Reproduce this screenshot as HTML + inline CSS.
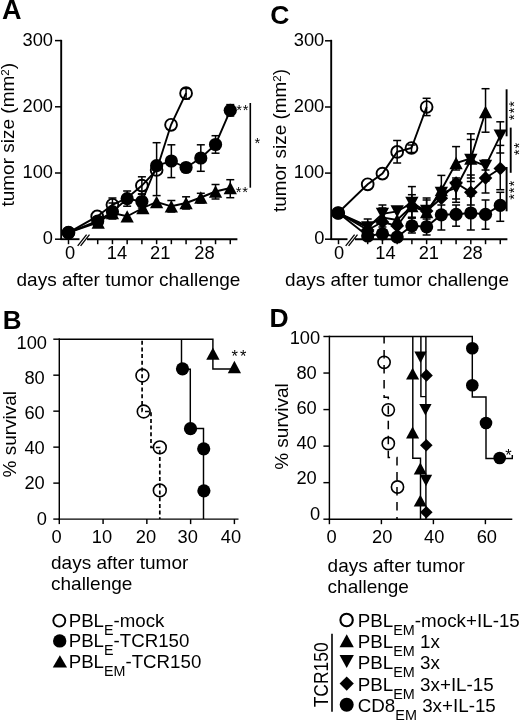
<!DOCTYPE html>
<html><head><meta charset="utf-8"><title>Figure</title>
<style>
html,body{margin:0;padding:0;background:#fff;}
svg{display:block;}
text{font-family:"Liberation Sans",sans-serif;fill:#000;}
</style></head>
<body>
<svg width="520" height="721" viewBox="0 0 520 721">
<rect width="520" height="721" fill="#fff"/>
<line x1="61.20" y1="39.80" x2="61.20" y2="240.00" stroke="#000" stroke-width="1.9" />
<line x1="60.40" y1="239.20" x2="79.50" y2="239.20" stroke="#000" stroke-width="1.9" />
<line x1="87.00" y1="239.20" x2="237.40" y2="239.20" stroke="#000" stroke-width="1.9" />
<line x1="77.70" y1="245.80" x2="86.60" y2="234.60" stroke="#000" stroke-width="1.3" />
<line x1="80.60" y1="245.80" x2="89.50" y2="234.60" stroke="#000" stroke-width="1.3" />
<line x1="55.00" y1="40.60" x2="61.20" y2="40.60" stroke="#000" stroke-width="1.5" />
<text x="53.00" y="45.80" font-size="18.3" text-anchor="end" font-weight="normal" >300</text>
<line x1="55.00" y1="106.80" x2="61.20" y2="106.80" stroke="#000" stroke-width="1.5" />
<text x="53.00" y="112.00" font-size="18.3" text-anchor="end" font-weight="normal" >200</text>
<line x1="55.00" y1="173.00" x2="61.20" y2="173.00" stroke="#000" stroke-width="1.5" />
<text x="53.00" y="178.20" font-size="18.3" text-anchor="end" font-weight="normal" >100</text>
<line x1="55.00" y1="239.20" x2="61.20" y2="239.20" stroke="#000" stroke-width="1.5" />
<text x="53.00" y="244.40" font-size="18.3" text-anchor="end" font-weight="normal" >0</text>
<line x1="68.50" y1="239.20" x2="68.50" y2="244.20" stroke="#000" stroke-width="1.5" />
<line x1="97.70" y1="239.20" x2="97.70" y2="244.20" stroke="#000" stroke-width="1.5" />
<line x1="112.43" y1="239.20" x2="112.43" y2="244.20" stroke="#000" stroke-width="1.5" />
<line x1="127.16" y1="239.20" x2="127.16" y2="244.20" stroke="#000" stroke-width="1.5" />
<line x1="141.89" y1="239.20" x2="141.89" y2="244.20" stroke="#000" stroke-width="1.5" />
<line x1="156.62" y1="239.20" x2="156.62" y2="244.20" stroke="#000" stroke-width="1.5" />
<line x1="171.35" y1="239.20" x2="171.35" y2="244.20" stroke="#000" stroke-width="1.5" />
<line x1="186.08" y1="239.20" x2="186.08" y2="244.20" stroke="#000" stroke-width="1.5" />
<line x1="200.81" y1="239.20" x2="200.81" y2="244.20" stroke="#000" stroke-width="1.5" />
<line x1="215.54" y1="239.20" x2="215.54" y2="244.20" stroke="#000" stroke-width="1.5" />
<line x1="230.27" y1="239.20" x2="230.27" y2="244.20" stroke="#000" stroke-width="1.5" />
<text x="70.20" y="259.20" font-size="18.3" text-anchor="middle" font-weight="normal" >0</text>
<text x="116.90" y="259.20" font-size="18.3" text-anchor="middle" font-weight="normal" >14</text>
<text x="160.20" y="259.20" font-size="18.3" text-anchor="middle" font-weight="normal" >21</text>
<text x="204.40" y="259.20" font-size="18.3" text-anchor="middle" font-weight="normal" >28</text>
<text x="16.50" y="286.30" font-size="19" text-anchor="start" font-weight="normal" >days after tumor challenge</text>
<text transform="translate(14.2,206.6) rotate(-90)" font-size="19">tumor size (mm<tspan font-size="11.5" dy="-5">2</tspan><tspan dy="5">)</tspan></text>
<text x="2.10" y="18.80" font-size="27" text-anchor="start" font-weight="bold" >A</text>
<circle cx="68.50" cy="232.70" r="5.9" fill="#fff" stroke="#000" stroke-width="1.9"/>
<circle cx="97.20" cy="216.40" r="5.9" fill="#fff" stroke="#000" stroke-width="1.9"/>
<circle cx="112.43" cy="204.80" r="5.9" fill="#fff" stroke="#000" stroke-width="1.9"/>
<circle cx="141.89" cy="185.60" r="5.9" fill="#fff" stroke="#000" stroke-width="1.9"/>
<circle cx="156.62" cy="170.00" r="5.9" fill="#fff" stroke="#000" stroke-width="1.9"/>
<circle cx="171.05" cy="124.80" r="5.9" fill="#fff" stroke="#000" stroke-width="1.9"/>
<circle cx="186.08" cy="93.20" r="5.9" fill="#fff" stroke="#000" stroke-width="1.9"/>
<polyline points="68.50,232.70 97.20,216.40 112.43,204.80 127.16,198.00 141.89,185.60 156.62,170.00 171.05,124.80 186.08,93.20" fill="none" stroke="#000" stroke-width="1.9" />
<line x1="112.43" y1="198.00" x2="112.43" y2="211.00" stroke="#000" stroke-width="1.5" />
<line x1="108.43" y1="198.00" x2="116.43" y2="198.00" stroke="#000" stroke-width="1.5" />
<line x1="108.43" y1="211.00" x2="116.43" y2="211.00" stroke="#000" stroke-width="1.5" />
<line x1="141.89" y1="176.80" x2="141.89" y2="194.00" stroke="#000" stroke-width="1.5" />
<line x1="137.89" y1="176.80" x2="145.89" y2="176.80" stroke="#000" stroke-width="1.5" />
<line x1="137.89" y1="194.00" x2="145.89" y2="194.00" stroke="#000" stroke-width="1.5" />
<line x1="186.08" y1="88.50" x2="186.08" y2="99.00" stroke="#000" stroke-width="1.5" />
<line x1="182.08" y1="88.50" x2="190.08" y2="88.50" stroke="#000" stroke-width="1.5" />
<line x1="182.08" y1="99.00" x2="190.08" y2="99.00" stroke="#000" stroke-width="1.5" />
<line x1="171.35" y1="200.50" x2="171.35" y2="212.00" stroke="#000" stroke-width="1.5" />
<line x1="167.35" y1="200.50" x2="175.35" y2="200.50" stroke="#000" stroke-width="1.5" />
<line x1="167.35" y1="212.00" x2="175.35" y2="212.00" stroke="#000" stroke-width="1.5" />
<line x1="186.08" y1="196.80" x2="186.08" y2="209.00" stroke="#000" stroke-width="1.5" />
<line x1="182.08" y1="196.80" x2="190.08" y2="196.80" stroke="#000" stroke-width="1.5" />
<line x1="182.08" y1="209.00" x2="190.08" y2="209.00" stroke="#000" stroke-width="1.5" />
<line x1="200.81" y1="193.30" x2="200.81" y2="203.00" stroke="#000" stroke-width="1.5" />
<line x1="196.81" y1="193.30" x2="204.81" y2="193.30" stroke="#000" stroke-width="1.5" />
<line x1="196.81" y1="203.00" x2="204.81" y2="203.00" stroke="#000" stroke-width="1.5" />
<line x1="215.54" y1="184.50" x2="215.54" y2="199.00" stroke="#000" stroke-width="1.5" />
<line x1="211.54" y1="184.50" x2="219.54" y2="184.50" stroke="#000" stroke-width="1.5" />
<line x1="211.54" y1="199.00" x2="219.54" y2="199.00" stroke="#000" stroke-width="1.5" />
<line x1="230.27" y1="179.70" x2="230.27" y2="197.70" stroke="#000" stroke-width="1.5" />
<line x1="226.27" y1="179.70" x2="234.27" y2="179.70" stroke="#000" stroke-width="1.5" />
<line x1="226.27" y1="197.70" x2="234.27" y2="197.70" stroke="#000" stroke-width="1.5" />
<polyline points="68.50,232.70 98.20,222.50 112.43,213.00 127.16,216.30 142.89,208.00 156.62,202.00 171.35,206.30 186.08,203.00 200.81,197.50 215.54,191.50 230.27,188.00" fill="none" stroke="#000" stroke-width="1.9" />
<polygon points="91.55,228.65 104.85,228.65 98.20,216.35" fill="#000"/>
<polygon points="105.78,219.15 119.08,219.15 112.43,206.85" fill="#000"/>
<polygon points="120.51,222.45 133.81,222.45 127.16,210.15" fill="#000"/>
<polygon points="136.24,214.15 149.54,214.15 142.89,201.85" fill="#000"/>
<polygon points="149.97,208.15 163.27,208.15 156.62,195.85" fill="#000"/>
<polygon points="164.70,212.45 178.00,212.45 171.35,200.15" fill="#000"/>
<polygon points="179.43,209.15 192.73,209.15 186.08,196.85" fill="#000"/>
<polygon points="194.16,203.65 207.46,203.65 200.81,191.35" fill="#000"/>
<polygon points="208.89,197.65 222.19,197.65 215.54,185.35" fill="#000"/>
<polygon points="223.62,194.15 236.92,194.15 230.27,181.85" fill="#000"/>
<line x1="112.43" y1="203.00" x2="112.43" y2="219.00" stroke="#000" stroke-width="1.5" />
<line x1="108.43" y1="203.00" x2="116.43" y2="203.00" stroke="#000" stroke-width="1.5" />
<line x1="108.43" y1="219.00" x2="116.43" y2="219.00" stroke="#000" stroke-width="1.5" />
<line x1="127.16" y1="191.00" x2="127.16" y2="206.20" stroke="#000" stroke-width="1.5" />
<line x1="123.16" y1="191.00" x2="131.16" y2="191.00" stroke="#000" stroke-width="1.5" />
<line x1="123.16" y1="206.20" x2="131.16" y2="206.20" stroke="#000" stroke-width="1.5" />
<line x1="141.89" y1="194.00" x2="141.89" y2="208.00" stroke="#000" stroke-width="1.5" />
<line x1="137.89" y1="194.00" x2="145.89" y2="194.00" stroke="#000" stroke-width="1.5" />
<line x1="137.89" y1="208.00" x2="145.89" y2="208.00" stroke="#000" stroke-width="1.5" />
<line x1="156.62" y1="142.70" x2="156.62" y2="195.60" stroke="#000" stroke-width="1.5" />
<line x1="152.62" y1="142.70" x2="160.62" y2="142.70" stroke="#000" stroke-width="1.5" />
<line x1="152.62" y1="195.60" x2="160.62" y2="195.60" stroke="#000" stroke-width="1.5" />
<line x1="171.35" y1="144.80" x2="171.35" y2="177.60" stroke="#000" stroke-width="1.5" />
<line x1="167.35" y1="144.80" x2="175.35" y2="144.80" stroke="#000" stroke-width="1.5" />
<line x1="167.35" y1="177.60" x2="175.35" y2="177.60" stroke="#000" stroke-width="1.5" />
<line x1="200.81" y1="144.80" x2="200.81" y2="171.30" stroke="#000" stroke-width="1.5" />
<line x1="196.81" y1="144.80" x2="204.81" y2="144.80" stroke="#000" stroke-width="1.5" />
<line x1="196.81" y1="171.30" x2="204.81" y2="171.30" stroke="#000" stroke-width="1.5" />
<line x1="215.54" y1="135.70" x2="215.54" y2="153.20" stroke="#000" stroke-width="1.5" />
<line x1="211.54" y1="135.70" x2="219.54" y2="135.70" stroke="#000" stroke-width="1.5" />
<line x1="211.54" y1="153.20" x2="219.54" y2="153.20" stroke="#000" stroke-width="1.5" />
<line x1="230.27" y1="104.60" x2="230.27" y2="116.00" stroke="#000" stroke-width="1.5" />
<line x1="226.27" y1="104.60" x2="234.27" y2="104.60" stroke="#000" stroke-width="1.5" />
<line x1="226.27" y1="116.00" x2="234.27" y2="116.00" stroke="#000" stroke-width="1.5" />
<polyline points="68.50,232.70 97.70,221.00 112.43,211.70 127.16,198.70 141.89,201.50 156.62,165.70 171.35,161.00 186.08,167.50 200.81,158.00 215.54,144.50 230.27,110.30" fill="none" stroke="#000" stroke-width="1.9" />
<circle cx="68.50" cy="232.70" r="6.6" fill="#000"/>
<circle cx="97.70" cy="221.00" r="6.6" fill="#000"/>
<circle cx="112.43" cy="211.70" r="6.6" fill="#000"/>
<circle cx="127.16" cy="198.70" r="6.6" fill="#000"/>
<circle cx="141.89" cy="201.50" r="6.6" fill="#000"/>
<circle cx="156.62" cy="165.70" r="6.6" fill="#000"/>
<circle cx="171.35" cy="161.00" r="6.6" fill="#000"/>
<circle cx="186.08" cy="167.50" r="6.6" fill="#000"/>
<circle cx="200.81" cy="158.00" r="6.6" fill="#000"/>
<circle cx="215.54" cy="144.50" r="6.6" fill="#000"/>
<circle cx="230.27" cy="110.30" r="6.6" fill="#000"/>
<text x="236.20" y="114.60" font-size="14.7" text-anchor="start" font-weight="normal" letter-spacing="0.9">**</text>
<text x="235.70" y="196.60" font-size="14.7" text-anchor="start" font-weight="normal" letter-spacing="0.9">**</text>
<line x1="250.30" y1="103.00" x2="250.30" y2="187.70" stroke="#000" stroke-width="1.6" />
<text x="254.50" y="148.10" font-size="14.7" text-anchor="start" font-weight="normal" >*</text>
<line x1="331.20" y1="39.80" x2="331.20" y2="240.00" stroke="#000" stroke-width="1.9" />
<line x1="330.40" y1="239.20" x2="347.50" y2="239.20" stroke="#000" stroke-width="1.9" />
<line x1="355.00" y1="239.20" x2="507.40" y2="239.20" stroke="#000" stroke-width="1.9" />
<line x1="345.70" y1="245.80" x2="354.60" y2="234.60" stroke="#000" stroke-width="1.3" />
<line x1="348.60" y1="245.80" x2="357.50" y2="234.60" stroke="#000" stroke-width="1.3" />
<line x1="325.00" y1="40.80" x2="331.20" y2="40.80" stroke="#000" stroke-width="1.5" />
<text x="324.30" y="46.00" font-size="18.3" text-anchor="end" font-weight="normal" >300</text>
<line x1="325.00" y1="107.00" x2="331.20" y2="107.00" stroke="#000" stroke-width="1.5" />
<text x="324.30" y="112.20" font-size="18.3" text-anchor="end" font-weight="normal" >200</text>
<line x1="325.00" y1="173.10" x2="331.20" y2="173.10" stroke="#000" stroke-width="1.5" />
<text x="324.30" y="178.30" font-size="18.3" text-anchor="end" font-weight="normal" >100</text>
<line x1="325.00" y1="239.20" x2="331.20" y2="239.20" stroke="#000" stroke-width="1.5" />
<text x="324.30" y="244.40" font-size="18.3" text-anchor="end" font-weight="normal" >0</text>
<line x1="338.50" y1="239.20" x2="338.50" y2="244.20" stroke="#000" stroke-width="1.5" />
<line x1="367.70" y1="239.20" x2="367.70" y2="244.20" stroke="#000" stroke-width="1.5" />
<line x1="382.43" y1="239.20" x2="382.43" y2="244.20" stroke="#000" stroke-width="1.5" />
<line x1="397.16" y1="239.20" x2="397.16" y2="244.20" stroke="#000" stroke-width="1.5" />
<line x1="411.89" y1="239.20" x2="411.89" y2="244.20" stroke="#000" stroke-width="1.5" />
<line x1="426.62" y1="239.20" x2="426.62" y2="244.20" stroke="#000" stroke-width="1.5" />
<line x1="441.35" y1="239.20" x2="441.35" y2="244.20" stroke="#000" stroke-width="1.5" />
<line x1="456.08" y1="239.20" x2="456.08" y2="244.20" stroke="#000" stroke-width="1.5" />
<line x1="470.81" y1="239.20" x2="470.81" y2="244.20" stroke="#000" stroke-width="1.5" />
<line x1="485.54" y1="239.20" x2="485.54" y2="244.20" stroke="#000" stroke-width="1.5" />
<line x1="500.27" y1="239.20" x2="500.27" y2="244.20" stroke="#000" stroke-width="1.5" />
<text x="339.20" y="259.40" font-size="18.3" text-anchor="middle" font-weight="normal" >0</text>
<text x="385.40" y="259.40" font-size="18.3" text-anchor="middle" font-weight="normal" >14</text>
<text x="428.80" y="259.40" font-size="18.3" text-anchor="middle" font-weight="normal" >21</text>
<text x="472.60" y="259.40" font-size="18.3" text-anchor="middle" font-weight="normal" >28</text>
<text x="285.10" y="286.30" font-size="19" text-anchor="start" font-weight="normal" >days after tumor challenge</text>
<text transform="translate(285.5,212.1) rotate(-90)" font-size="18.95">tumor size (mm<tspan font-size="11.5" dy="-5">2</tspan><tspan dy="5">)</tspan></text>
<text x="270.20" y="24.40" font-size="26.5" text-anchor="start" font-weight="bold" >C</text>
<circle cx="338.00" cy="213.00" r="5.9" fill="#fff" stroke="#000" stroke-width="1.9"/>
<circle cx="367.70" cy="184.30" r="5.9" fill="#fff" stroke="#000" stroke-width="1.9"/>
<circle cx="382.43" cy="173.60" r="5.9" fill="#fff" stroke="#000" stroke-width="1.9"/>
<circle cx="397.16" cy="151.90" r="5.9" fill="#fff" stroke="#000" stroke-width="1.9"/>
<circle cx="411.49" cy="148.00" r="5.9" fill="#fff" stroke="#000" stroke-width="1.9"/>
<circle cx="426.62" cy="107.00" r="5.9" fill="#fff" stroke="#000" stroke-width="1.9"/>
<polyline points="338.00,213.00 367.70,184.30 382.43,173.60 397.16,151.90 411.49,148.00 426.62,107.00" fill="none" stroke="#000" stroke-width="1.9" />
<line x1="397.16" y1="140.50" x2="397.16" y2="163.00" stroke="#000" stroke-width="1.5" />
<line x1="393.16" y1="140.50" x2="401.16" y2="140.50" stroke="#000" stroke-width="1.5" />
<line x1="393.16" y1="163.00" x2="401.16" y2="163.00" stroke="#000" stroke-width="1.5" />
<line x1="411.49" y1="145.00" x2="411.49" y2="152.50" stroke="#000" stroke-width="1.5" />
<line x1="407.49" y1="145.00" x2="415.49" y2="145.00" stroke="#000" stroke-width="1.5" />
<line x1="407.49" y1="152.50" x2="415.49" y2="152.50" stroke="#000" stroke-width="1.5" />
<line x1="426.62" y1="98.30" x2="426.62" y2="115.60" stroke="#000" stroke-width="1.5" />
<line x1="422.62" y1="98.30" x2="430.62" y2="98.30" stroke="#000" stroke-width="1.5" />
<line x1="422.62" y1="115.60" x2="430.62" y2="115.60" stroke="#000" stroke-width="1.5" />
<line x1="367.70" y1="219.00" x2="367.70" y2="233.00" stroke="#000" stroke-width="1.5" />
<line x1="363.70" y1="219.00" x2="371.70" y2="219.00" stroke="#000" stroke-width="1.5" />
<line x1="363.70" y1="233.00" x2="371.70" y2="233.00" stroke="#000" stroke-width="1.5" />
<line x1="382.43" y1="208.00" x2="382.43" y2="227.00" stroke="#000" stroke-width="1.5" />
<line x1="378.43" y1="208.00" x2="386.43" y2="208.00" stroke="#000" stroke-width="1.5" />
<line x1="378.43" y1="227.00" x2="386.43" y2="227.00" stroke="#000" stroke-width="1.5" />
<line x1="411.89" y1="186.60" x2="411.89" y2="218.00" stroke="#000" stroke-width="1.5" />
<line x1="407.89" y1="186.60" x2="415.89" y2="186.60" stroke="#000" stroke-width="1.5" />
<line x1="407.89" y1="218.00" x2="415.89" y2="218.00" stroke="#000" stroke-width="1.5" />
<line x1="426.62" y1="200.00" x2="426.62" y2="224.00" stroke="#000" stroke-width="1.5" />
<line x1="422.62" y1="200.00" x2="430.62" y2="200.00" stroke="#000" stroke-width="1.5" />
<line x1="422.62" y1="224.00" x2="430.62" y2="224.00" stroke="#000" stroke-width="1.5" />
<line x1="441.35" y1="175.40" x2="441.35" y2="200.00" stroke="#000" stroke-width="1.5" />
<line x1="437.35" y1="175.40" x2="445.35" y2="175.40" stroke="#000" stroke-width="1.5" />
<line x1="437.35" y1="200.00" x2="445.35" y2="200.00" stroke="#000" stroke-width="1.5" />
<line x1="456.08" y1="146.60" x2="456.08" y2="170.00" stroke="#000" stroke-width="1.5" />
<line x1="452.08" y1="146.60" x2="460.08" y2="146.60" stroke="#000" stroke-width="1.5" />
<line x1="452.08" y1="170.00" x2="460.08" y2="170.00" stroke="#000" stroke-width="1.5" />
<line x1="470.81" y1="133.80" x2="470.81" y2="178.00" stroke="#000" stroke-width="1.5" />
<line x1="466.81" y1="133.80" x2="474.81" y2="133.80" stroke="#000" stroke-width="1.5" />
<line x1="466.81" y1="178.00" x2="474.81" y2="178.00" stroke="#000" stroke-width="1.5" />
<line x1="485.54" y1="88.70" x2="485.54" y2="132.20" stroke="#000" stroke-width="1.5" />
<line x1="481.54" y1="88.70" x2="489.54" y2="88.70" stroke="#000" stroke-width="1.5" />
<line x1="481.54" y1="132.20" x2="489.54" y2="132.20" stroke="#000" stroke-width="1.5" />
<polyline points="338.50,213.00 367.70,226.00 382.43,217.50 397.16,220.00 411.89,206.00 426.62,212.00 441.35,190.00 456.08,163.00 470.81,158.50 485.54,112.00" fill="none" stroke="#000" stroke-width="1.9" />
<polygon points="361.05,232.15 374.35,232.15 367.70,219.85" fill="#000"/>
<polygon points="375.78,223.65 389.08,223.65 382.43,211.35" fill="#000"/>
<polygon points="390.51,226.15 403.81,226.15 397.16,213.85" fill="#000"/>
<polygon points="405.24,212.15 418.54,212.15 411.89,199.85" fill="#000"/>
<polygon points="419.97,218.15 433.27,218.15 426.62,205.85" fill="#000"/>
<polygon points="434.70,196.15 448.00,196.15 441.35,183.85" fill="#000"/>
<polygon points="449.43,169.15 462.73,169.15 456.08,156.85" fill="#000"/>
<polygon points="464.16,164.65 477.46,164.65 470.81,152.35" fill="#000"/>
<polygon points="478.89,118.15 492.19,118.15 485.54,105.85" fill="#000"/>
<line x1="382.43" y1="205.00" x2="382.43" y2="224.00" stroke="#000" stroke-width="1.5" />
<line x1="378.43" y1="205.00" x2="386.43" y2="205.00" stroke="#000" stroke-width="1.5" />
<line x1="378.43" y1="224.00" x2="386.43" y2="224.00" stroke="#000" stroke-width="1.5" />
<line x1="411.89" y1="194.70" x2="411.89" y2="217.20" stroke="#000" stroke-width="1.5" />
<line x1="407.89" y1="194.70" x2="415.89" y2="194.70" stroke="#000" stroke-width="1.5" />
<line x1="407.89" y1="217.20" x2="415.89" y2="217.20" stroke="#000" stroke-width="1.5" />
<line x1="426.62" y1="198.00" x2="426.62" y2="222.00" stroke="#000" stroke-width="1.5" />
<line x1="422.62" y1="198.00" x2="430.62" y2="198.00" stroke="#000" stroke-width="1.5" />
<line x1="422.62" y1="222.00" x2="430.62" y2="222.00" stroke="#000" stroke-width="1.5" />
<line x1="456.08" y1="180.00" x2="456.08" y2="202.30" stroke="#000" stroke-width="1.5" />
<line x1="452.08" y1="180.00" x2="460.08" y2="180.00" stroke="#000" stroke-width="1.5" />
<line x1="452.08" y1="202.30" x2="460.08" y2="202.30" stroke="#000" stroke-width="1.5" />
<line x1="470.81" y1="139.50" x2="470.81" y2="181.50" stroke="#000" stroke-width="1.5" />
<line x1="466.81" y1="139.50" x2="474.81" y2="139.50" stroke="#000" stroke-width="1.5" />
<line x1="466.81" y1="181.50" x2="474.81" y2="181.50" stroke="#000" stroke-width="1.5" />
<line x1="485.54" y1="160.00" x2="485.54" y2="181.00" stroke="#000" stroke-width="1.5" />
<line x1="481.54" y1="160.00" x2="489.54" y2="160.00" stroke="#000" stroke-width="1.5" />
<line x1="481.54" y1="181.00" x2="489.54" y2="181.00" stroke="#000" stroke-width="1.5" />
<line x1="500.27" y1="121.80" x2="500.27" y2="153.00" stroke="#000" stroke-width="1.5" />
<line x1="496.27" y1="121.80" x2="504.27" y2="121.80" stroke="#000" stroke-width="1.5" />
<line x1="496.27" y1="153.00" x2="504.27" y2="153.00" stroke="#000" stroke-width="1.5" />
<polyline points="338.50,213.00 367.70,227.50 382.43,213.80 397.16,211.40 411.89,203.00 426.62,211.00 441.35,193.00 456.08,188.00 470.81,160.00 485.54,165.90 500.27,135.60" fill="none" stroke="#000" stroke-width="1.9" />
<polygon points="361.05,221.35 374.35,221.35 367.70,233.65" fill="#000"/>
<polygon points="375.78,207.65 389.08,207.65 382.43,219.95" fill="#000"/>
<polygon points="390.51,205.25 403.81,205.25 397.16,217.55" fill="#000"/>
<polygon points="405.24,196.85 418.54,196.85 411.89,209.15" fill="#000"/>
<polygon points="419.97,204.85 433.27,204.85 426.62,217.15" fill="#000"/>
<polygon points="434.70,186.85 448.00,186.85 441.35,199.15" fill="#000"/>
<polygon points="449.43,181.85 462.73,181.85 456.08,194.15" fill="#000"/>
<polygon points="464.16,153.85 477.46,153.85 470.81,166.15" fill="#000"/>
<polygon points="478.89,159.75 492.19,159.75 485.54,172.05" fill="#000"/>
<polygon points="493.62,129.45 506.92,129.45 500.27,141.75" fill="#000"/>
<line x1="456.08" y1="178.00" x2="456.08" y2="199.00" stroke="#000" stroke-width="1.5" />
<line x1="452.08" y1="178.00" x2="460.08" y2="178.00" stroke="#000" stroke-width="1.5" />
<line x1="452.08" y1="199.00" x2="460.08" y2="199.00" stroke="#000" stroke-width="1.5" />
<line x1="470.81" y1="175.00" x2="470.81" y2="205.00" stroke="#000" stroke-width="1.5" />
<line x1="466.81" y1="175.00" x2="474.81" y2="175.00" stroke="#000" stroke-width="1.5" />
<line x1="466.81" y1="205.00" x2="474.81" y2="205.00" stroke="#000" stroke-width="1.5" />
<line x1="485.54" y1="170.00" x2="485.54" y2="193.00" stroke="#000" stroke-width="1.5" />
<line x1="481.54" y1="170.00" x2="489.54" y2="170.00" stroke="#000" stroke-width="1.5" />
<line x1="481.54" y1="193.00" x2="489.54" y2="193.00" stroke="#000" stroke-width="1.5" />
<line x1="500.27" y1="145.40" x2="500.27" y2="189.70" stroke="#000" stroke-width="1.5" />
<line x1="496.27" y1="145.40" x2="504.27" y2="145.40" stroke="#000" stroke-width="1.5" />
<line x1="496.27" y1="189.70" x2="504.27" y2="189.70" stroke="#000" stroke-width="1.5" />
<polyline points="338.50,213.00 367.70,230.00 382.43,222.00 397.16,226.00 411.89,206.00 426.62,211.00 441.35,198.30 456.08,183.00 470.81,192.30 485.54,178.00 500.27,168.50" fill="none" stroke="#000" stroke-width="1.9" />
<polygon points="360.90,230.00 367.70,223.20 374.50,230.00 367.70,236.80" fill="#000"/>
<polygon points="375.63,222.00 382.43,215.20 389.23,222.00 382.43,228.80" fill="#000"/>
<polygon points="390.36,226.00 397.16,219.20 403.96,226.00 397.16,232.80" fill="#000"/>
<polygon points="405.09,206.00 411.89,199.20 418.69,206.00 411.89,212.80" fill="#000"/>
<polygon points="419.82,211.00 426.62,204.20 433.42,211.00 426.62,217.80" fill="#000"/>
<polygon points="434.55,198.30 441.35,191.50 448.15,198.30 441.35,205.10" fill="#000"/>
<polygon points="449.28,183.00 456.08,176.20 462.88,183.00 456.08,189.80" fill="#000"/>
<polygon points="464.01,192.30 470.81,185.50 477.61,192.30 470.81,199.10" fill="#000"/>
<polygon points="478.74,178.00 485.54,171.20 492.34,178.00 485.54,184.80" fill="#000"/>
<polygon points="493.47,168.50 500.27,161.70 507.07,168.50 500.27,175.30" fill="#000"/>
<line x1="411.89" y1="218.00" x2="411.89" y2="233.00" stroke="#000" stroke-width="1.5" />
<line x1="407.89" y1="218.00" x2="415.89" y2="218.00" stroke="#000" stroke-width="1.5" />
<line x1="407.89" y1="233.00" x2="415.89" y2="233.00" stroke="#000" stroke-width="1.5" />
<line x1="426.62" y1="219.00" x2="426.62" y2="235.00" stroke="#000" stroke-width="1.5" />
<line x1="422.62" y1="219.00" x2="430.62" y2="219.00" stroke="#000" stroke-width="1.5" />
<line x1="422.62" y1="235.00" x2="430.62" y2="235.00" stroke="#000" stroke-width="1.5" />
<line x1="441.35" y1="205.00" x2="441.35" y2="230.00" stroke="#000" stroke-width="1.5" />
<line x1="437.35" y1="205.00" x2="445.35" y2="205.00" stroke="#000" stroke-width="1.5" />
<line x1="437.35" y1="230.00" x2="445.35" y2="230.00" stroke="#000" stroke-width="1.5" />
<line x1="456.08" y1="205.00" x2="456.08" y2="226.20" stroke="#000" stroke-width="1.5" />
<line x1="452.08" y1="205.00" x2="460.08" y2="205.00" stroke="#000" stroke-width="1.5" />
<line x1="452.08" y1="226.20" x2="460.08" y2="226.20" stroke="#000" stroke-width="1.5" />
<line x1="470.81" y1="196.00" x2="470.81" y2="230.00" stroke="#000" stroke-width="1.5" />
<line x1="466.81" y1="196.00" x2="474.81" y2="196.00" stroke="#000" stroke-width="1.5" />
<line x1="466.81" y1="230.00" x2="474.81" y2="230.00" stroke="#000" stroke-width="1.5" />
<line x1="485.54" y1="200.00" x2="485.54" y2="229.20" stroke="#000" stroke-width="1.5" />
<line x1="481.54" y1="200.00" x2="489.54" y2="200.00" stroke="#000" stroke-width="1.5" />
<line x1="481.54" y1="229.20" x2="489.54" y2="229.20" stroke="#000" stroke-width="1.5" />
<line x1="500.27" y1="192.30" x2="500.27" y2="221.30" stroke="#000" stroke-width="1.5" />
<line x1="496.27" y1="192.30" x2="504.27" y2="192.30" stroke="#000" stroke-width="1.5" />
<line x1="496.27" y1="221.30" x2="504.27" y2="221.30" stroke="#000" stroke-width="1.5" />
<polyline points="338.50,213.00 367.70,236.00 382.43,233.80 397.16,237.00 411.89,225.80 426.62,226.80 441.35,214.80 456.08,214.30 470.81,213.00 485.54,214.30 500.27,205.40" fill="none" stroke="#000" stroke-width="1.9" />
<circle cx="338.50" cy="213.00" r="6.6" fill="#000"/>
<circle cx="367.70" cy="236.00" r="6.6" fill="#000"/>
<circle cx="382.43" cy="233.80" r="6.6" fill="#000"/>
<circle cx="397.16" cy="237.00" r="6.6" fill="#000"/>
<circle cx="411.89" cy="225.80" r="6.6" fill="#000"/>
<circle cx="426.62" cy="226.80" r="6.6" fill="#000"/>
<circle cx="441.35" cy="214.80" r="6.6" fill="#000"/>
<circle cx="456.08" cy="214.30" r="6.6" fill="#000"/>
<circle cx="470.81" cy="213.00" r="6.6" fill="#000"/>
<circle cx="485.54" cy="214.30" r="6.6" fill="#000"/>
<circle cx="500.27" cy="205.40" r="6.6" fill="#000"/>
<line x1="506.60" y1="89.30" x2="506.60" y2="136.30" stroke="#000" stroke-width="1.9" />
<line x1="510.70" y1="127.60" x2="510.70" y2="172.80" stroke="#000" stroke-width="1.9" />
<line x1="506.60" y1="167.00" x2="506.60" y2="211.30" stroke="#000" stroke-width="1.9" />
<text transform="translate(519.2,120.2) rotate(-90)" font-size="15" letter-spacing="0.8">***</text>
<text transform="translate(524.3,155.2) rotate(-90)" font-size="15" letter-spacing="0.8">**</text>
<text transform="translate(519.2,199.8) rotate(-90)" font-size="15" letter-spacing="0.8">***</text>
<line x1="59.30" y1="338.40" x2="59.30" y2="519.90" stroke="#000" stroke-width="1.45" />
<line x1="58.50" y1="519.10" x2="238.50" y2="519.10" stroke="#000" stroke-width="1.45" />
<line x1="53.30" y1="519.10" x2="59.30" y2="519.10" stroke="#000" stroke-width="1.45" />
<text x="47.00" y="524.50" font-size="18.3" text-anchor="end" font-weight="normal" >0</text>
<line x1="53.30" y1="483.12" x2="59.30" y2="483.12" stroke="#000" stroke-width="1.45" />
<text x="44.80" y="489.30" font-size="18.3" text-anchor="end" font-weight="normal" >20</text>
<line x1="53.30" y1="447.14" x2="59.30" y2="447.14" stroke="#000" stroke-width="1.45" />
<text x="44.80" y="454.10" font-size="18.3" text-anchor="end" font-weight="normal" >40</text>
<line x1="53.30" y1="411.16" x2="59.30" y2="411.16" stroke="#000" stroke-width="1.45" />
<text x="44.80" y="418.90" font-size="18.3" text-anchor="end" font-weight="normal" >60</text>
<line x1="53.30" y1="375.18" x2="59.30" y2="375.18" stroke="#000" stroke-width="1.45" />
<text x="44.80" y="383.70" font-size="18.3" text-anchor="end" font-weight="normal" >80</text>
<line x1="53.30" y1="339.20" x2="59.30" y2="339.20" stroke="#000" stroke-width="1.45" />
<text x="47.00" y="348.50" font-size="18.3" text-anchor="end" font-weight="normal" >100</text>
<line x1="59.30" y1="519.10" x2="59.30" y2="524.10" stroke="#000" stroke-width="1.45" />
<line x1="103.08" y1="519.10" x2="103.08" y2="524.10" stroke="#000" stroke-width="1.45" />
<line x1="146.85" y1="519.10" x2="146.85" y2="524.10" stroke="#000" stroke-width="1.45" />
<line x1="190.62" y1="519.10" x2="190.62" y2="524.10" stroke="#000" stroke-width="1.45" />
<line x1="234.40" y1="519.10" x2="234.40" y2="524.10" stroke="#000" stroke-width="1.45" />
<text x="56.70" y="543.20" font-size="18.3" text-anchor="middle" font-weight="normal" >0</text>
<text x="102.00" y="543.20" font-size="18.3" text-anchor="middle" font-weight="normal" >10</text>
<text x="146.00" y="543.20" font-size="18.3" text-anchor="middle" font-weight="normal" >20</text>
<text x="187.70" y="543.20" font-size="18.3" text-anchor="middle" font-weight="normal" >30</text>
<text x="231.00" y="543.20" font-size="18.3" text-anchor="middle" font-weight="normal" >40</text>
<text x="51.00" y="569.40" font-size="19" text-anchor="start" font-weight="normal" >days after tumor</text>
<text x="51.00" y="590.40" font-size="19" text-anchor="start" font-weight="normal" >challenge</text>
<text transform="translate(15.5,477.5) rotate(-90)" font-size="19">% survival</text>
<text x="2.80" y="329.00" font-size="26" text-anchor="start" font-weight="bold" >B</text>
<polyline points="59.30,339.20 212.90,339.20 212.90,369.00 234.00,369.00" fill="none" stroke="#000" stroke-width="1.45" />
<polygon points="206.25,359.85 219.55,359.85 212.90,347.55" fill="#000"/>
<polygon points="227.75,373.15 241.05,373.15 234.40,360.85" fill="#000"/>
<text x="231.60" y="361.80" font-size="16.5" text-anchor="start" font-weight="normal" letter-spacing="2.1">**</text>
<polyline points="181.50,339.20 181.50,369.30 190.30,369.30 190.30,428.40 203.50,428.40 203.50,519.10" fill="none" stroke="#000" stroke-width="1.45" />
<circle cx="182.50" cy="368.80" r="6.6" fill="#000"/>
<circle cx="190.50" cy="428.70" r="6.6" fill="#000"/>
<circle cx="203.70" cy="448.80" r="6.6" fill="#000"/>
<circle cx="203.90" cy="490.80" r="6.6" fill="#000"/>
<circle cx="142.40" cy="375.50" r="6.4" fill="#fff" stroke="#000" stroke-width="1.6"/>
<circle cx="143.70" cy="411.50" r="6.4" fill="#fff" stroke="#000" stroke-width="1.6"/>
<circle cx="159.80" cy="447.40" r="6.4" fill="#fff" stroke="#000" stroke-width="1.6"/>
<circle cx="159.80" cy="490.40" r="6.4" fill="#fff" stroke="#000" stroke-width="1.6"/>
<polyline points="142.10,339.20 142.10,411.50 151.00,411.50 151.00,447.50 159.80,447.50 159.80,519.10" fill="none" stroke="#000" stroke-width="1.7" stroke-dasharray="4 2.7" stroke-dashoffset="-1.5"/>
<circle cx="59.30" cy="620.60" r="6.0" fill="#fff" stroke="#000" stroke-width="1.9"/>
<circle cx="59.70" cy="640.90" r="6.7" fill="#000"/>
<polygon points="52.75,667.60 67.05,667.60 59.90,655.20" fill="#000"/>
<text x="68.70" y="626.90" font-size="18.7" text-anchor="start" font-weight="normal" >PBL<tspan font-size="14.3" dy="8">E</tspan><tspan dy="-8">-mock</tspan></text>
<text x="68.70" y="647.20" font-size="18.7" text-anchor="start" font-weight="normal" >PBL<tspan font-size="14.3" dy="8">E</tspan><tspan dy="-8">-TCR150</tspan></text>
<text x="68.70" y="667.50" font-size="18.7" text-anchor="start" font-weight="normal" >PBL<tspan font-size="14.3" dy="8">EM</tspan><tspan dy="-8">-TCR150</tspan></text>
<line x1="329.40" y1="335.70" x2="329.40" y2="520.00" stroke="#000" stroke-width="1.45" />
<line x1="328.60" y1="519.20" x2="512.30" y2="519.20" stroke="#000" stroke-width="1.45" />
<line x1="323.40" y1="519.20" x2="329.40" y2="519.20" stroke="#000" stroke-width="1.45" />
<text x="320.20" y="519.60" font-size="18.3" text-anchor="end" font-weight="normal" >0</text>
<line x1="323.40" y1="482.66" x2="329.40" y2="482.66" stroke="#000" stroke-width="1.45" />
<text x="316.80" y="484.40" font-size="18.3" text-anchor="end" font-weight="normal" >20</text>
<line x1="323.40" y1="446.12" x2="329.40" y2="446.12" stroke="#000" stroke-width="1.45" />
<text x="316.80" y="449.20" font-size="18.3" text-anchor="end" font-weight="normal" >40</text>
<line x1="323.40" y1="409.58" x2="329.40" y2="409.58" stroke="#000" stroke-width="1.45" />
<text x="316.80" y="414.00" font-size="18.3" text-anchor="end" font-weight="normal" >60</text>
<line x1="323.40" y1="373.04" x2="329.40" y2="373.04" stroke="#000" stroke-width="1.45" />
<text x="316.80" y="378.80" font-size="18.3" text-anchor="end" font-weight="normal" >80</text>
<line x1="323.40" y1="336.50" x2="329.40" y2="336.50" stroke="#000" stroke-width="1.45" />
<text x="320.20" y="343.60" font-size="18.3" text-anchor="end" font-weight="normal" >100</text>
<line x1="329.40" y1="519.20" x2="329.40" y2="524.20" stroke="#000" stroke-width="1.45" />
<line x1="381.40" y1="519.20" x2="381.40" y2="524.20" stroke="#000" stroke-width="1.45" />
<line x1="433.40" y1="519.20" x2="433.40" y2="524.20" stroke="#000" stroke-width="1.45" />
<line x1="485.40" y1="519.20" x2="485.40" y2="524.20" stroke="#000" stroke-width="1.45" />
<text x="331.50" y="543.00" font-size="18.3" text-anchor="middle" font-weight="normal" >0</text>
<text x="382.20" y="543.00" font-size="18.3" text-anchor="middle" font-weight="normal" >20</text>
<text x="434.20" y="543.00" font-size="18.3" text-anchor="middle" font-weight="normal" >40</text>
<text x="486.80" y="543.00" font-size="18.3" text-anchor="middle" font-weight="normal" >60</text>
<text x="327.60" y="572.20" font-size="19" text-anchor="start" font-weight="normal" >days after tumor</text>
<text x="327.60" y="593.20" font-size="19" text-anchor="start" font-weight="normal" >challenge</text>
<text transform="translate(288,469.8) rotate(-90)" font-size="19">% survival</text>
<text x="269.60" y="327.00" font-size="26.5" text-anchor="start" font-weight="bold" >D</text>
<polyline points="329.40,336.50 472.30,336.50 472.30,397.00 486.00,397.00 486.00,458.50 512.30,458.50 512.30,455.00" fill="none" stroke="#000" stroke-width="1.45" />
<circle cx="472.30" cy="348.30" r="6.3" fill="#000"/>
<circle cx="472.30" cy="385.20" r="6.3" fill="#000"/>
<circle cx="486.00" cy="423.00" r="6.3" fill="#000"/>
<circle cx="499.70" cy="458.00" r="6.3" fill="#000"/>
<text x="505.30" y="461.10" font-size="16.5" text-anchor="start" font-weight="normal" >*</text>
<polyline points="425.90,336.50 425.90,519.20" fill="none" stroke="#000" stroke-width="1.45" />
<polyline points="420.90,336.50 420.90,396.60 425.90,396.60" fill="none" stroke="#000" stroke-width="1.45" />
<polyline points="412.80,336.50 412.80,458.20 420.50,458.20 420.50,519.20" fill="none" stroke="#000" stroke-width="1.45" />
<polygon points="406.05,379.50 419.15,379.50 412.60,367.70" fill="#000"/>
<polygon points="406.05,438.40 419.15,438.40 412.60,426.60" fill="#000"/>
<polygon points="413.75,474.40 426.85,474.40 420.30,462.60" fill="#000"/>
<polygon points="413.75,506.50 426.85,506.50 420.30,494.70" fill="#000"/>
<polygon points="414.35,351.40 426.65,351.40 420.50,363.00" fill="#000"/>
<polygon points="419.25,404.00 431.55,404.00 425.40,415.60" fill="#000"/>
<polygon points="419.85,474.70 432.15,474.70 426.00,486.30" fill="#000"/>
<polygon points="420.20,375.40 426.50,369.10 432.80,375.40 426.50,381.70" fill="#000"/>
<polygon points="420.00,445.20 426.30,438.90 432.60,445.20 426.30,451.50" fill="#000"/>
<polygon points="420.00,512.30 426.30,506.00 432.60,512.30 426.30,518.60" fill="#000"/>
<circle cx="384.10" cy="362.30" r="6.1" fill="#fff" stroke="#000" stroke-width="1.6"/>
<circle cx="388.30" cy="409.80" r="6.1" fill="#fff" stroke="#000" stroke-width="1.6"/>
<circle cx="388.30" cy="443.50" r="6.1" fill="#fff" stroke="#000" stroke-width="1.6"/>
<circle cx="397.50" cy="487.00" r="6.1" fill="#fff" stroke="#000" stroke-width="1.6"/>
<polyline points="384.10,336.50 384.10,397.30 388.30,397.30 388.30,457.50 397.00,457.50 397.00,519.20" fill="none" stroke="#000" stroke-width="1.5" stroke-dasharray="8.5 6.5" stroke-dashoffset="1.5"/>
<circle cx="346.60" cy="620.00" r="6.2" fill="#fff" stroke="#000" stroke-width="2.1"/>
<polygon points="339.55,647.30 353.85,647.30 346.70,634.30" fill="#000"/>
<polygon points="339.55,655.00 353.85,655.00 346.70,668.00" fill="#000"/>
<polygon points="339.60,683.60 346.70,676.50 353.80,683.60 346.70,690.70" fill="#000"/>
<circle cx="346.70" cy="704.70" r="7.0" fill="#000"/>
<text transform="translate(357.7,627.1) scale(1.045,1)" font-size="18">PBL<tspan font-size="13.8" dy="8">EM</tspan><tspan dy="-8">-mock+IL-15</tspan></text>
<text transform="translate(357.7,647.8) scale(1.045,1)" font-size="18">PBL<tspan font-size="13.8" dy="8">EM</tspan><tspan dy="-8"> 1x</tspan></text>
<text transform="translate(357.7,668.6) scale(1.045,1)" font-size="18">PBL<tspan font-size="13.8" dy="8">EM</tspan><tspan dy="-8"> 3x</tspan></text>
<text transform="translate(357.7,690.6) scale(1.045,1)" font-size="18">PBL<tspan font-size="13.8" dy="8">EM</tspan><tspan dy="-8"> 3x+IL-15</tspan></text>
<text transform="translate(357.7,711.7) scale(1.045,1)" font-size="18">CD8<tspan font-size="13.8" dy="8">EM</tspan><tspan dy="-8"> 3x+IL-15</tspan></text>
<line x1="332.00" y1="633.80" x2="332.00" y2="711.70" stroke="#000" stroke-width="1.6" />
<text transform="translate(328,707.3) rotate(-90)" font-size="19.8" textLength="65" lengthAdjust="spacingAndGlyphs">TCR150</text>
</svg>
</body></html>
